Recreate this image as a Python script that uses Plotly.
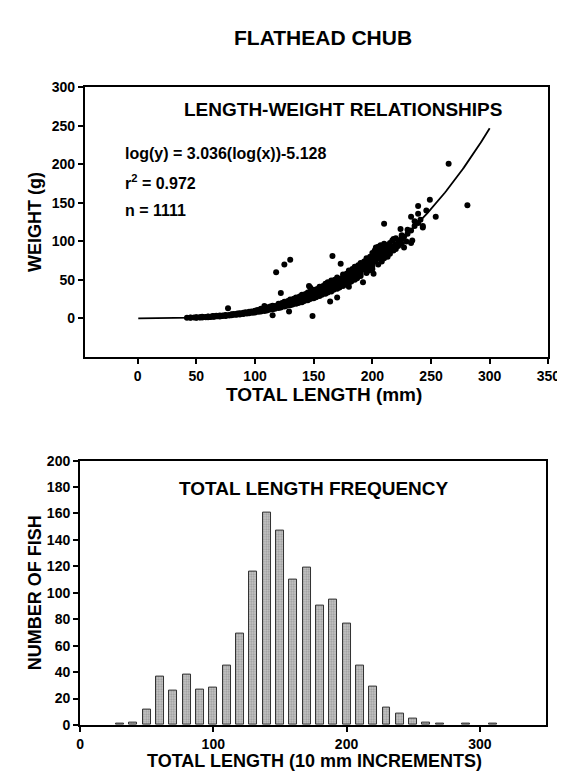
import numpy as np
import plotly.graph_objects as go

# ---------------- data ----------------
chart_title = "FLATHEAD CHUB"
fit_slope = 3.036
fit_intercept = -5.128
r_squared = 0.972
n_fish = 1111

lengths_mm = [
    42, 45, 45, 48, 50, 50, 50, 53, 53, 55,
    55, 55, 58, 58, 60, 60, 60, 62, 62, 64,
    64, 65, 65, 67, 67, 68, 70, 70, 70, 72,
    72, 73, 75, 75, 75, 77, 78, 78, 80, 80,
    80, 82, 82, 84, 84, 85, 85, 87, 87, 87,
    88, 90, 90, 90, 92, 92, 93, 95, 95, 95,
    97, 97, 98, 100, 100, 100, 100, 102, 102, 103,
    105, 105, 105, 105, 107, 107, 108, 108, 110, 110,
    110, 110, 110, 112, 112, 113, 113, 115, 115, 115,
    115, 115, 117, 117, 117, 118, 118, 120, 120, 120,
    120, 120, 122, 122, 122, 122, 123, 123, 125, 125,
    125, 125, 125, 125, 127, 127, 127, 128, 128, 129,
    130, 130, 130, 130, 130, 130, 132, 132, 132, 133,
    133, 135, 135, 135, 135, 135, 137, 137, 137, 138,
    138, 140, 140, 140, 140, 140, 140, 142, 142, 142,
    143, 143, 145, 145, 145, 145, 145, 146, 147, 147,
    147, 147, 148, 148, 149, 150, 150, 150, 150, 150,
    150, 152, 152, 152, 153, 153, 155, 155, 155, 155,
    155, 155, 157, 157, 157, 158, 158, 160, 160, 160,
    160, 160, 160, 162, 162, 162, 162, 163, 163, 164,
    165, 165, 165, 165, 165, 165, 166, 167, 167, 167,
    168, 168, 170, 170, 170, 170, 170, 170, 170, 172,
    172, 172, 173, 173, 175, 175, 175, 175, 175, 175,
    177, 177, 177, 178, 178, 180, 180, 180, 180, 180,
    180, 182, 182, 182, 183, 183, 185, 185, 185, 185,
    185, 185, 187, 187, 187, 188, 188, 190, 190, 190,
    190, 190, 190, 192, 192, 192, 193, 193, 195, 195,
    195, 195, 195, 197, 197, 197, 198, 198, 200, 200,
    200, 200, 200, 200, 201, 202, 202, 202, 203, 203,
    205, 205, 205, 205, 205, 207, 207, 207, 208, 208,
    209, 210, 210, 210, 210, 210, 212, 212, 213, 213,
    215, 215, 215, 215, 217, 217, 218, 218, 220, 220,
    220, 222, 222, 224, 224, 225, 225, 225, 227, 227,
    229, 230, 230, 233, 233, 233, 234, 236, 236, 239,
    239, 239, 241, 243, 243, 246, 249, 254, 265, 281,
]

weights_g = [
    0.8, 1.0, 0.6, 1.0, 1.2, 0.8, 1.5, 1.4, 1.0, 1.6,
    1.2, 2.0, 1.8, 1.5, 2.0, 2.4, 1.5, 2.2, 1.8, 2.5,
    2.9, 2.4, 2.0, 2.8, 3.3, 2.6, 3.0, 3.6, 2.5, 3.3,
    2.9, 3.8, 3.7, 4.3, 3.1, 13.0, 4.2, 3.6, 4.5, 5.2,
    3.9, 4.8, 5.5, 5.2, 4.6, 5.4, 6.2, 5.8, 6.6, 5.0,
    6.0, 6.3, 7.2, 5.5, 6.8, 7.8, 6.2, 7.5, 8.5, 6.6,
    8.0, 9.0, 7.4, 8.8, 10.0, 7.6, 9.5, 9.3, 10.8, 8.4,
    10.2, 11.5, 9.0, 12.5, 10.8, 12.0, 9.6, 16.0, 11.7, 13.5,
    10.2, 12.8, 14.5, 12.5, 11.0, 13.8, 15.5, 13.4, 15.0, 11.8,
    16.5, 4.0, 14.2, 12.5, 16.0, 60.0, 15.0, 15.3, 17.5, 13.5,
    19.0, 14.5, 16.2, 18.5, 14.2, 33.0, 17.0, 20.0, 17.3, 19.5,
    15.5, 21.5, 70.0, 16.5, 18.3, 20.5, 16.2, 19.0, 22.5, 9.0,
    19.5, 22.0, 17.0, 24.5, 76.0, 20.5, 20.5, 23.0, 18.0, 21.5,
    25.5, 21.8, 24.5, 19.0, 27.0, 23.0, 22.8, 26.0, 20.0, 24.0,
    28.5, 24.3, 27.5, 21.0, 30.5, 25.5, 23.0, 25.5, 29.0, 22.5,
    26.5, 31.5, 27.0, 30.5, 23.5, 33.5, 28.5, 42.0, 28.5, 32.0,
    25.0, 40.0, 29.5, 34.5, 3.0, 30.1, 34.0, 26.0, 37.0, 31.5,
    28.0, 31.5, 35.5, 27.5, 32.5, 38.0, 33.2, 37.5, 29.0, 41.0,
    35.0, 31.0, 34.5, 39.0, 30.5, 36.0, 42.0, 36.6, 41.0, 32.0,
    45.0, 38.5, 34.0, 38.0, 43.0, 33.5, 47.0, 39.5, 36.0, 22.0,
    40.1, 45.0, 35.0, 49.0, 42.0, 38.0, 81.0, 41.5, 47.0, 37.0,
    43.0, 50.0, 43.9, 49.0, 38.5, 53.0, 46.0, 27.0, 41.0, 45.5,
    51.0, 40.0, 47.0, 71.0, 47.9, 53.5, 42.0, 57.0, 50.0, 45.0,
    49.5, 55.5, 44.0, 51.0, 58.0, 52.2, 58.0, 46.0, 62.0, 55.0,
    41.0, 54.0, 60.0, 48.0, 56.0, 64.0, 56.6, 63.0, 50.0, 67.0,
    59.0, 53.0, 58.5, 65.0, 52.0, 60.0, 69.0, 61.4, 68.0, 55.0,
    72.0, 64.0, 58.0, 63.5, 70.0, 47.0, 65.0, 74.0, 66.4, 74.0,
    59.0, 78.0, 70.0, 68.5, 76.0, 62.0, 70.5, 80.0, 72.1, 80.0,
    64.0, 85.0, 76.0, 68.0, 58.0, 74.0, 82.0, 88.0, 76.0, 92.0,
    77.7, 86.0, 70.0, 93.0, 82.0, 80.0, 89.0, 95.0, 84.0, 74.0,
    88.0, 83.6, 92.0, 97.0, 123.0, 78.0, 86.0, 95.0, 90.0, 80.0,
    89.7, 98.0, 84.0, 92.0, 93.0, 101.0, 103.0, 88.0, 96.1, 104.0,
    90.0, 99.0, 94.0, 116.0, 102.0, 103.0, 108.0, 97.0, 106.0, 92.0,
    100.0, 110.0, 115.0, 132.0, 114.0, 98.0, 101.0, 120.0, 126.0, 146.0,
    136.0, 124.0, 128.0, 120.0, 118.0, 140.0, 154.0, 132.0, 201.0, 147.0,
]

length_bins_mm = [30, 40, 50, 60, 70, 80, 90, 100, 110, 120, 130, 140, 150, 160,
                  170, 180, 190, 200, 210, 220, 230, 240, 250, 260, 270, 290, 310]
fish_counts = [1, 2, 12, 37, 26, 38, 27, 28, 45, 69, 116, 161, 147, 110,
               119, 90, 95, 77, 45, 29, 13, 9, 5, 2, 1, 1, 1]

top_xticks = [0, 50, 100, 150, 200, 250, 300, 350]
top_yticks = [0, 50, 100, 150, 200, 250, 300]
bot_xticks = [0, 100, 200, 300]
bot_yticks = list(range(0, 201, 20))

# ---------------- figure ----------------
W, H = 565, 773
FONT = "Liberation Sans, Arial, Helvetica, sans-serif"


def px(x):
    return x / W


def py(y):
    return 1 - y / H


fit_x = np.linspace(0.5, 300, 300)
fit_y = 10 ** (fit_slope * np.log10(fit_x) + fit_intercept)

fig = go.Figure()
fig.add_trace(go.Scatter(
    x=lengths_mm, y=weights_g, mode="markers",
    marker=dict(color="black", size=6, line=dict(width=0)),
    xaxis="x", yaxis="y", showlegend=False, hoverinfo="x+y"))
fig.add_trace(go.Scatter(
    x=fit_x, y=fit_y, mode="lines",
    line=dict(color="black", width=1.8),
    xaxis="x", yaxis="y", showlegend=False, hoverinfo="skip"))
fig.add_trace(go.Bar(
    x=length_bins_mm, y=fish_counts, width=6,
    marker=dict(color="#bcbcbc", line=dict(color="#303030", width=1),
                pattern=dict(shape=".", fgcolor="#6a6a6a", bgcolor="#c8c8c8",
                             size=2.5, solidity=0.45)),
    xaxis="x2", yaxis="y2", showlegend=False))

axis_common = dict(
    showgrid=False, zeroline=False, showline=True, linecolor="black",
    linewidth=2, mirror=True, ticks="outside", ticklen=5, tickwidth=1.5,
    tickcolor="black",
    tickfont=dict(family=FONT, size=14, color="black", weight="bold"),
)

fig.update_layout(
    width=W, height=H,
    margin=dict(l=0, r=0, t=0, b=0),
    paper_bgcolor="white", plot_bgcolor="white",
    font=dict(family=FONT, color="black", size=12),
    bargap=0,
    xaxis=dict(domain=[px(75), px(552)], range=[-45, 350], tickvals=top_xticks,
               anchor="y", **axis_common),
    yaxis=dict(domain=[py(348), py(73)], range=[-50, 300], tickvals=top_yticks,
               anchor="x", **axis_common),
    xaxis2=dict(domain=[px(70), px(550)], range=[0, 350], tickvals=bot_xticks,
                anchor="y2", **axis_common),
    yaxis2=dict(domain=[py(724), py(454)], range=[0, 200], tickvals=bot_yticks,
                anchor="x2", **axis_common),
)

bold = dict(family=FONT, color="black", weight="bold")


def label(text, x, y, size, xanchor="center", angle=0):
    fig.add_annotation(text=text, x=px(x), y=py(y), xref="paper", yref="paper",
                       showarrow=False, xanchor=xanchor, yanchor="middle",
                       textangle=angle, font=dict(size=size, **bold))


label(chart_title, 320, 22, 21)
label("LENGTH-WEIGHT RELATIONSHIPS", 341, 95, 19)
label(f"log(y) = {fit_slope:.3f}(log(x)){fit_intercept:.3f}", 114, 140, 16, xanchor="left")
label(f"r<sup>2</sup> = {r_squared:.3f}", 114, 170, 16, xanchor="left")
label(f"n = {n_fish}", 114, 199, 16, xanchor="left")
label("TOTAL LENGTH (mm)", 321, 386, 19)
label("WEIGHT (g)", 23, 210, 18, angle=-90)
label("TOTAL LENGTH FREQUENCY", 311, 482, 19)
label("TOTAL LENGTH (10 mm INCREMENTS)", 311, 761, 18)
label("NUMBER OF FISH", 23, 589, 18, angle=-90)

fig.write_html("out.html")
